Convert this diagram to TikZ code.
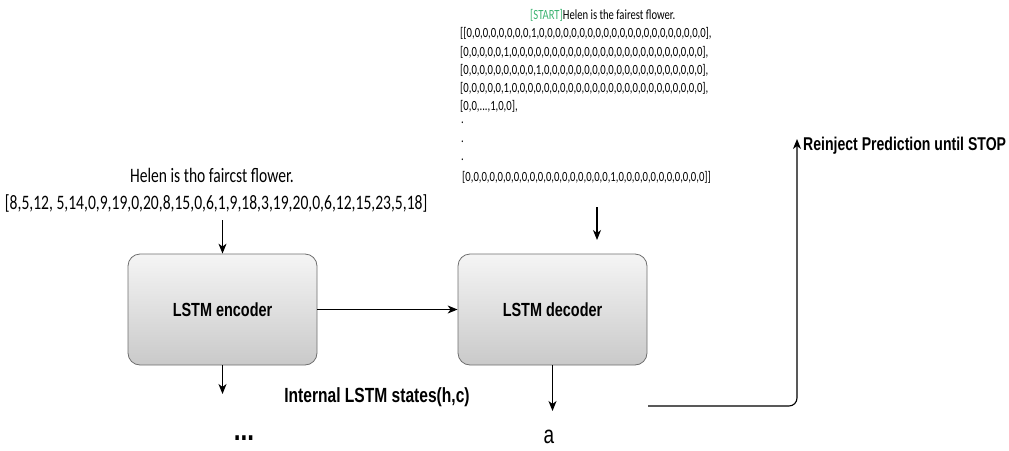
\documentclass[tikz,border=0pt]{standalone}
\usepackage{fontspec}
\usepackage{graphicx}
\usepackage{xcolor}
\setmainfont{Carlito}
\newfontfamily\headfont{Liberation Sans}
\usetikzlibrary{arrows.meta}

\definecolor{startgreen}{RGB}{60,179,113}
\definecolor{boxline}{RGB}{110,110,110}

% narrow horizontal scaling used for all labels
\newcommand{\narrow}[1]{\scalebox{0.76}[1]{#1}}
\newcommand{\vectxt}[1]{\narrow{\fontsize{14}{18}\selectfont #1}}
\newcommand{\boldlbl}[2]{\narrow{\headfont\bfseries\fontsize{#1}{#1}\selectfont #2}}

\begin{document}
\begin{tikzpicture}[x=1pt,y=-1pt,
  lstm/.style={draw=boxline, line width=0.8pt, rounded corners=12pt,
    top color=gray!8, bottom color=gray!42,
    minimum width=189pt, minimum height=111pt, inner sep=0pt},
  txt/.style={inner sep=0pt},
  arr/.style={-{Stealth[length=10pt,width=8pt,inset=3pt]}, line width=1.1pt}]
\useasboundingbox (0,0) rectangle (1009,450);

% encoder / decoder blocks
\node[lstm] (enc) at (222.5,309.5) {\boldlbl{19}{LSTM encoder}};
\node[lstm] (dec) at (552.5,309.5) {\boldlbl{19}{LSTM decoder}};
\draw[arr] (enc) -- (dec);

% encoder input
\node[txt] (intxt) at (212,175) {\narrow{\fontsize{20.5}{24}\selectfont Helen is tho faircst flower.}};
\node[txt] (invec) at (216,203) {\narrow{\fontsize{20.5}{24}\selectfont [8,5,12, 5,14,0,9,19,0,20,8,15,0,6,1,9,18,3,19,20,0,6,12,15,23,5,18]}};
\coordinate (encin) at (222.5,220);
\draw[arr] (encin) -- (enc);

% encoder output
\coordinate (encout) at (222.5,394);
\draw[arr] (enc) -- (encout);
\node[txt] (more) at (244,438) {\boldlbl{32}{...}};
\node[txt] (states) at (377,397) {\boldlbl{20.5}{Internal LSTM states(h,c)}};

% decoder input (one-hot targets)
\node[txt, anchor=west] (start) at (530,15) {\vectxt{\textcolor{startgreen}{[START]}Helen is the fairest flower.}};
\node[txt, anchor=west] (v1) at (460,33) {\vectxt{[[0,0,0,0,0,0,0,0,1,0,0,0,0,0,0,0,0,0,0,0,0,0,0,0,0,0,0,0,0,0],}};
\node[txt, anchor=west] (v2) at (460,52) {\vectxt{[0,0,0,0,0,1,0,0,0,0,0,0,0,0,0,0,0,0,0,0,0,0,0,0,0,0,0,0,0,0],}};
\node[txt, anchor=west] (v3) at (460,70) {\vectxt{[0,0,0,0,0,0,0,0,0,1,0,0,0,0,0,0,0,0,0,0,0,0,0,0,0,0,0,0,0,0],}};
\node[txt, anchor=west] (v4) at (460,88) {\vectxt{[0,0,0,0,0,1,0,0,0,0,0,0,0,0,0,0,0,0,0,0,0,0,0,0,0,0,0,0,0,0],}};
\node[txt, anchor=west] (v5) at (460,106) {\vectxt{[0,0,...,1,0,0],}};
\node[txt, anchor=west] (d1) at (461,123) {\vectxt{.}};
\node[txt, anchor=west] (d2) at (461,142) {\vectxt{.}};
\node[txt, anchor=west] (d3) at (461,160) {\vectxt{.}};
\node[txt, anchor=west] (vn) at (462,177) {\vectxt{[0,0,0,0,0,0,0,0,0,0,0,0,0,0,0,0,0,0,1,0,0,0,0,0,0,0,0,0,0,0]]}};
\coordinate (decin) at (597,207);
\coordinate (decinend) at (597,240);
\draw[arr] (decin) -- (decinend);

% decoder output and feedback loop
\coordinate (decout) at (552.5,411);
\draw[arr] (dec) -- (decout);
\node[txt] (pred) at (549,437) {\narrow{\headfont\fontsize{25}{25}\selectfont a}};
\coordinate (fbstart) at (648,406);
\coordinate (fbcorner) at (797,406);
\coordinate (fbend) at (797,139);
\draw[arr, rounded corners=8pt] (fbstart) -- (fbcorner) -- (fbend);
\node[txt, anchor=west] (reinject) at (803,146) {\boldlbl{18.5}{Reinject Prediction until STOP}};
\end{tikzpicture}
\end{document}
